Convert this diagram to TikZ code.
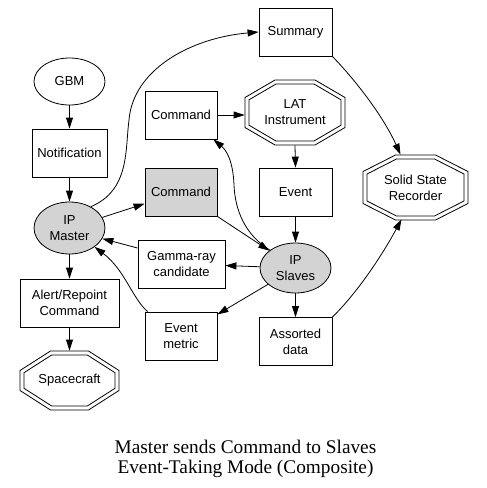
\documentclass[tikz,border=0pt]{standalone}
\usepackage{fontspec}
\setmainfont{Liberation Sans}
\newfontfamily\capfont{Liberation Serif}
\usetikzlibrary{arrows.meta,shapes.geometric,calc}
\definecolor{gvgray}{RGB}{211,211,211}
\newcommand{\nodefont}{\fontsize{13}{16}\selectfont}
\newcommand{\octo}[5]{\draw[shift={(#1.center)}] (-#4,-#3) -- (#4,-#3) -- (#2,-#5) -- (#2,#5) -- (#4,#3) -- (-#4,#3) -- (-#2,#5) -- (-#2,-#5) -- cycle;}
\tikzset{
  box/.style={draw, rectangle, minimum width=73pt, minimum height=48pt, inner sep=0pt, align=center, font=\nodefont},
  ell/.style={draw, ellipse, inner sep=0pt, align=center, font=\nodefont},
  octnode/.style={rectangle, inner sep=0pt, align=center, font=\nodefont},
  conn/.style={-{Triangle[length=11pt,width=7pt]}},
  grayfill/.style={fill=gvgray},
  captext/.style={anchor=base, inner sep=0pt, font=\capfont\fontsize{19.3}{20}\selectfont},
}
\begin{document}
\begin{tikzpicture}[x=1pt,y=-1pt,line width=0.8pt]
\useasboundingbox[fill=white] (0,0) rectangle (487,488);
% nodes
\node[ell, minimum width=71pt, minimum height=47pt] (gbm) at (69.5,81.5) {GBM};
\node[box, minimum width=75pt] (notif) at (69.5,153) {Notification};
\node[ell, grayfill, minimum width=71pt, minimum height=52pt] (master) at (69.5,228) {IP\\Master};
\node[box, minimum width=99pt] (alert) at (69.5,303) {Alert/Repoint\\Command};
\node[octnode, minimum width=99pt, minimum height=59pt] (space) at (69.5,380.5) {Spacecraft};
\node[box, minimum width=72pt] (cmdA) at (181,115) {Command};
\node[box, grayfill, minimum width=72pt] (cmdB) at (181,192) {Command};
\node[box, minimum width=87pt] (gamma) at (181.5,264) {Gamma-ray\\candidate};
\node[box, minimum width=72pt] (metric) at (181,336) {Event\\metric};
\node[box] (summary) at (295.5,32) {Summary};
\node[octnode, minimum width=100pt, minimum height=65pt] (lat) at (295,112.5) {LAT\\Instrument};
\node[box] (event) at (295.5,192) {Event};
\node[ell, grayfill, minimum width=71pt, minimum height=50pt] (slaves) at (295.5,268) {IP\\Slaves};
\node[box] (assorted) at (295.5,341.5) {Assorted\\data};
\node[octnode, minimum width=105pt, minimum height=65pt] (ssr) at (415.5,187.5) {Solid State\\Recorder};
% octagon outlines
\octo{lat}{50}{32.5}{20}{15}
\octo{lat}{46}{28.5}{19}{12.7}
\octo{ssr}{52.5}{32.5}{20}{16}
\octo{ssr}{48.5}{28.5}{19}{13.5}
\octo{space}{49.5}{29.5}{19}{10}
\octo{space}{45.5}{25.5}{17.8}{7.8}
% connectors
\draw[conn] (gbm) -- (notif);
\draw[conn] (notif) -- (master);
\draw[conn] (master) -- (alert);
\draw[conn] (alert) -- (space);
\draw[conn] (master) -- (cmdB);
\draw[conn] (cmdA.east) -- (cmdA.east -| lat.west);
\draw[conn] (lat.south) -- (event.north);
\draw[conn] (event) -- (slaves);
\draw[conn] (slaves) -- (assorted);
\draw[conn] (slaves) -- (gamma);
\draw[conn] (slaves) -- (metric);
\draw[conn] (cmdB.south east) -- (slaves);
\draw[conn] (gamma.160) -- (master.-18);
\draw[conn] ($(metric.north west)+(3,0)$) .. controls (132,298) and (125,270) .. (master.-37);
\draw[conn] (master.45) .. controls (130,190) and (125,150) .. (129,120) .. controls (133,70) and (190,38) .. (summary.west);
\draw[conn] (slaves.145) .. controls (245,235) and (235,210) .. (234,185) .. controls (233,160) and (226,150) .. ($(cmdA.south east)+(-4,0)$);
\draw[conn] (summary.south east) .. controls (360,85) and (385,120) .. ($(ssr.north)+(-15,0)$);
\draw[conn] (assorted.north east) .. controls (360,290) and (385,250) .. ($(ssr.south)+(-14,-1)$);
% caption
\node[captext] (cap1) at (245.5,453) {Master sends Command to Slaves};
\node[captext] (cap2) at (245.5,473) {Event-Taking Mode (Composite)};
\end{tikzpicture}
\end{document}
